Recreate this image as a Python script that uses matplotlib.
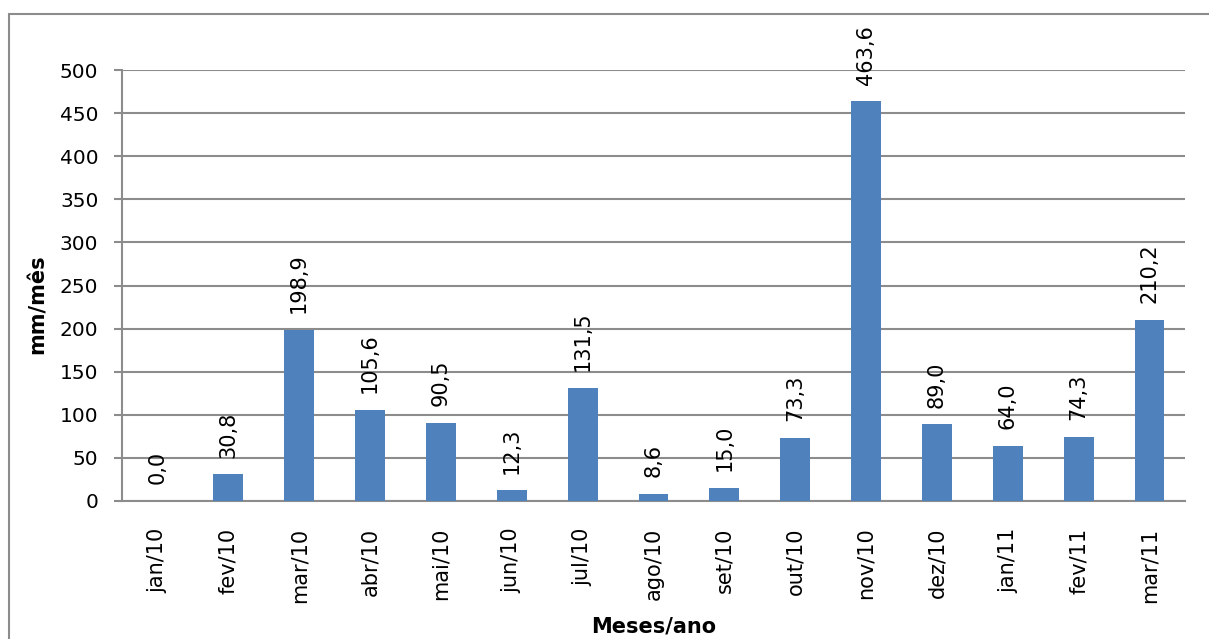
import matplotlib.pyplot as plt
from matplotlib.patches import Rectangle

# Precipitação mensal (mm/mês)
meses = ['jan/10', 'fev/10', 'mar/10', 'abr/10', 'mai/10', 'jun/10', 'jul/10', 'ago/10',
         'set/10', 'out/10', 'nov/10', 'dez/10', 'jan/11', 'fev/11', 'mar/11']
chuva = [0.0, 30.8, 198.9, 105.6, 90.5, 12.3, 131.5, 8.6,
         15.0, 73.3, 463.6, 89.0, 64.0, 74.3, 210.2]

W, H = 1209, 639
fig = plt.figure(figsize=(W / 100, H / 100), dpi=100)
ax = fig.add_axes([122 / W, 1 - 501 / H, (1185 - 122) / W, (501 - 70) / H])

cor_barra = '#4F81BD'
cor_grade = '#8C8C8C'
x = range(len(meses))
barras = ax.bar(x, chuva, width=0.42, color=cor_barra, zorder=3)

for b, v in zip(barras, chuva):
    rotulo = f'{v:.1f}'.replace('.', ',')
    ax.annotate(rotulo, (b.get_x() + b.get_width() / 2, v), xytext=(0, 12),
                textcoords='offset points', rotation=90, ha='center', va='bottom',
                fontsize=15)

ax.set_xlim(-0.5, len(meses) - 0.5)
ax.set_ylim(0, 500)
ax.set_yticks(range(0, 501, 50))
ax.set_xticks(list(x))
ax.set_xticklabels(meses, rotation=90, fontsize=15)
ax.tick_params(axis='y', labelsize=14.5, length=6, color=cor_grade, width=1.5, pad=11)
ax.tick_params(axis='x', length=0, pad=19)
ax.grid(axis='y', color=cor_grade, linewidth=1.5, zorder=0)

for lado in ['top', 'right']:
    ax.spines[lado].set_visible(False)
for lado in ['left', 'bottom']:
    ax.spines[lado].set_color(cor_grade)
    ax.spines[lado].set_linewidth(1.5)

ax.set_ylabel('mm/mês', fontsize=15, fontweight='bold')
ax.set_xlabel('Meses/ano', fontsize=15, fontweight='bold')
ax.yaxis.set_label_coords(-0.079, 0.457)
ax.xaxis.set_label_coords(0.5, -0.292)
ax.xaxis.label.set_va('center')
ax.yaxis.label.set_va('center')

# moldura cinza em volta do gráfico
fig.patches.append(Rectangle((9 / W, -0.05), 1.1, 1 - 14 / H + 0.05,
                             transform=fig.transFigure, fill=False,
                             edgecolor='#8C8C8C', linewidth=1.5))

fig.savefig('out.png', dpi=100)
